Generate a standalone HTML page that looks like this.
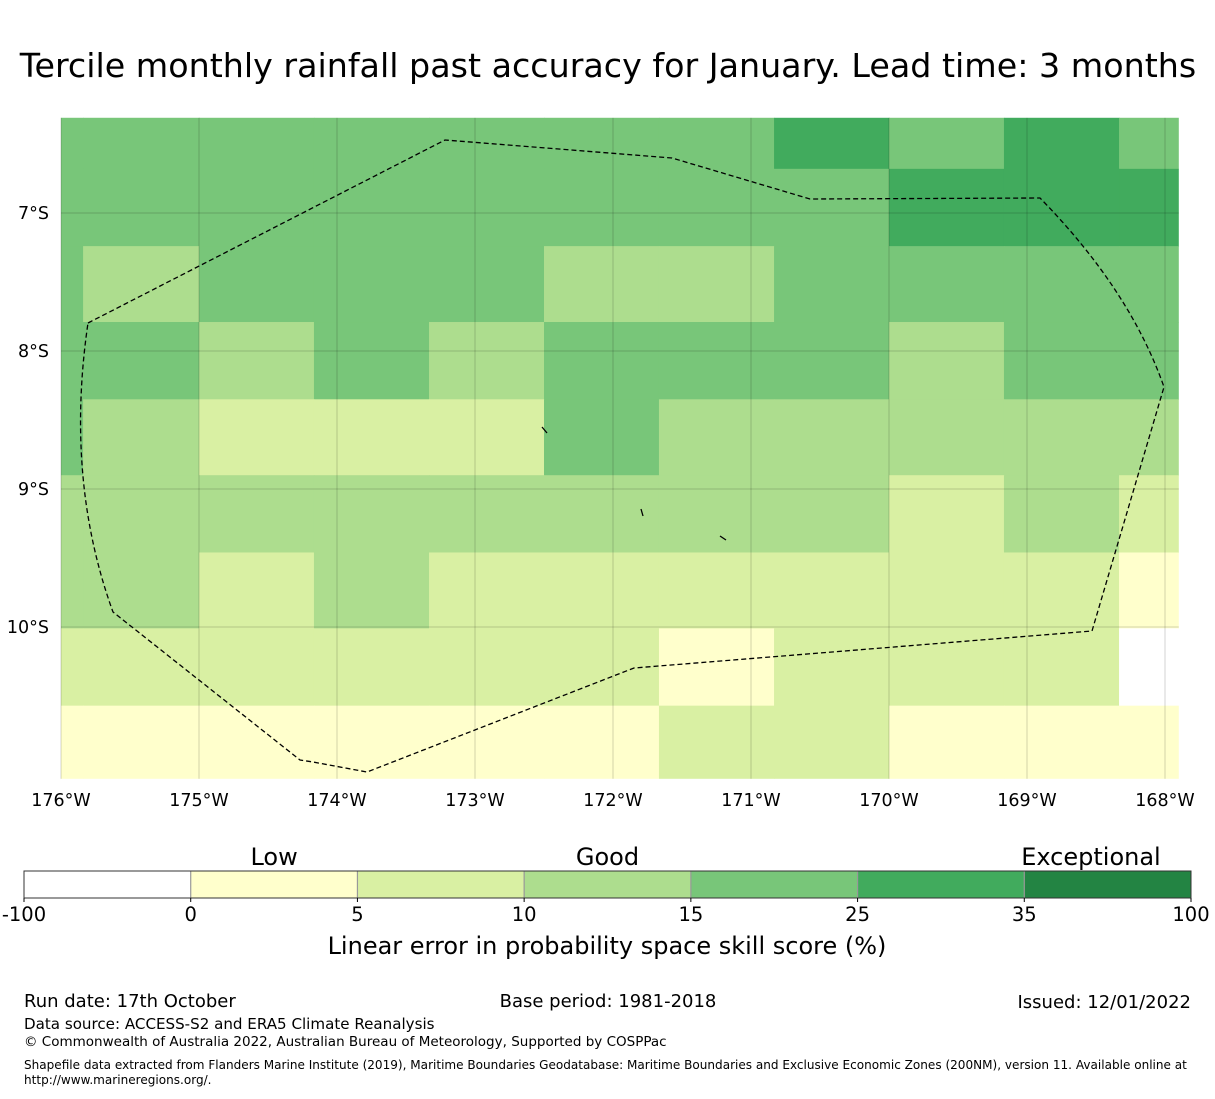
<!DOCTYPE html>
<html><head><meta charset="utf-8"><style>
body{margin:0;background:#fff;width:1215px;height:1095px;overflow:hidden;font-family:"DejaVu Sans","Liberation Sans",sans-serif;}
svg text{font-family:"DejaVu Sans","Liberation Sans",sans-serif;}
</style></head><body>
<svg id="chart" width="1215" height="1095" viewBox="0 0 1215 1095" xmlns="http://www.w3.org/2000/svg">
<text x="608" y="77" font-size="33.3" text-anchor="middle">Tercile monthly rainfall past accuracy for January. Lead time: 3 months</text>
<g id="map"></g>
<g id="cbar"></g>
<text x="607" y="954" font-size="24" text-anchor="middle">Linear error in probability space skill score (%)</text>
<text x="24" y="1007" font-size="18">Run date: 17th October</text>
<text x="608" y="1007" font-size="18" text-anchor="middle">Base period: 1981-2018</text>
<text x="1191" y="1008" font-size="18" text-anchor="end">Issued: 12/01/2022</text>
<text x="24" y="1029" font-size="15.1">Data source: ACCESS-S2 and ERA5 Climate Reanalysis</text>
<text x="24" y="1046" font-size="13.5">© Commonwealth of Australia 2022, Australian Bureau of Meteorology, Supported by COSPPac</text>
<text x="24" y="1069" font-size="12.05">Shapefile data extracted from Flanders Marine Institute (2019), Maritime Boundaries Geodatabase: Maritime Boundaries and Exclusive Economic Zones (200NM), version 11. Available online at</text>
<text x="24" y="1084" font-size="12.05">http://www.marineregions.org/.</text>
</svg>
<script>
// Map data
const lonEdges = [-176, -175.84, -175.0, -174.167, -173.333, -172.5, -171.667, -170.833, -170.0, -169.167, -168.333, -167.9];
const latEdges = [-6.31, -6.68, -7.24, -7.79, -8.35, -8.9, -9.46, -10.01, -10.57, -11.1];
// color classes: 0 white, 1..6 increasing skill
const skillRows = [
 [4,4,4,4,4,4,4,5,4,5,4],
 [4,4,4,4,4,4,4,4,5,5,5],
 [4,3,4,4,4,3,3,4,4,4,4],
 [4,4,3,4,3,4,4,4,3,4,4],
 [4,3,2,2,2,4,3,3,3,3,3],
 [3,3,3,3,3,3,3,3,2,3,2],
 [3,3,2,3,2,2,2,2,2,2,1],
 [2,2,2,2,2,2,1,2,2,2,0],
 [1,1,1,1,1,1,2,2,1,1,1]
];
const lonTicks = [-176,-175,-174,-173,-172,-171,-170,-169,-168];
const latTicks = [-7,-8,-9,-10];
const cbarBounds = ["-100","0","5","10","15","25","35","100"];
const cbarColors = ["#ffffff","#ffffcc","#d9f0a3","#addd8e","#78c679","#41ab5d","#238443"];
const cbarCats = ["Low","Good","Exceptional"];
const cbarCatPos = [1.5,3.5,6.4];

const NS='http://www.w3.org/2000/svg';
const X = lon => 61 + (lon + 176) * 138;
const Y = lat => 213 + (-7 - lat) * 138;
function mk(tag, attrs, parent){const e=document.createElementNS(NS,tag);for(const k in attrs)e.setAttribute(k,attrs[k]);parent.appendChild(e);return e;}
const map=document.getElementById('map');
for(let r=0;r<skillRows.length;r++){
  for(let c=0;c<skillRows[r].length;c++){
    const x0=X(lonEdges[c]),x1=X(lonEdges[c+1]),y0=Y(latEdges[r]),y1=Y(latEdges[r+1]);
    const w=(c===skillRows[r].length-1)?x1-x0:x1-x0+0.5;
    const h=(r===skillRows.length-1)?y1-y0:y1-y0+0.5;
    const e=mk('rect',{x:x0,y:y0,width:w,height:h,fill:cbarColors[skillRows[r][c]]},map);
    
    
  }
}
const mapL=X(-176),mapR=X(-167.9),mapT=Y(-6.31),mapB=Y(-11.1);
lonTicks.forEach(lon=>{
  const x=X(lon);
  const l=mk('line',{x1:x,x2:x,y1:mapT,y2:mapB,stroke:'#000','stroke-opacity':0.35,'stroke-width':0.5},map);
  
  
  const t=mk('text',{x:x,y:mapB+27,'font-size':17.5,'text-anchor':'middle'},map);
  t.textContent=Math.abs(lon)+'°W';
  
  
});
latTicks.forEach(lat=>{
  const y=Y(lat);
  const l=mk('line',{x1:mapL,x2:mapR,y1:y,y2:y,stroke:'#000','stroke-opacity':0.35,'stroke-width':0.5},map);
  
  
  const t=mk('text',{x:49,y:y+6,'font-size':17.5,'text-anchor':'end'},map);
  t.textContent=Math.abs(lat)+'°S';
  
  
});
const eez=mk('path',{d:'M88,323 L445,140 L672,158 L810,199 L1040,198 Q1130,290 1164,387 L1092,631 L634,668 L367,772 L313,762 L300,760 L113,612 Q65,480 88,323 Z',fill:'none',stroke:'#000','stroke-width':1.3,'stroke-dasharray':'5,3'},map);


['M542,427 L547,433','M641,509 L643,516','M720,536 L726,540'].forEach(d=>{
  const i=mk('path',{d:d,stroke:'#000','stroke-width':1.3,fill:'none'},map);
  
  
});
// colorbar
const cb=document.getElementById('cbar');
const cbX0=24,cbW=1167,cbY=871,cbH=27,seg=cbW/cbarColors.length;
cbarColors.forEach((col,i)=>{
  const e=mk('rect',{x:cbX0+i*seg,y:cbY,width:seg,height:cbH,fill:col},cb);
  
  
  if(i>0){const d=mk('line',{x1:cbX0+i*seg,x2:cbX0+i*seg,y1:cbY,y2:cbY+cbH,stroke:'#999','stroke-width':1.2},cb);
    
    }
});
const fr=mk('rect',{x:cbX0,y:cbY,width:cbW,height:cbH,fill:'none',stroke:'#333','stroke-width':1},cb);


cbarBounds.forEach((b,i)=>{
  const x=cbX0+i*seg;
  const tk=mk('line',{x1:x,x2:x,y1:cbY+cbH,y2:cbY+cbH+4,stroke:'#000'},cb);
  
  
  const t=mk('text',{x:x,y:921,'font-size':19.5,'text-anchor':'middle'},cb);
  t.textContent=b;
  
  
});
cbarCats.forEach((c,i)=>{
  const t=mk('text',{x:cbX0+cbarCatPos[i]*seg,y:865,'font-size':24,'text-anchor':'middle'},cb);
  t.textContent=c;
  
  
});
</script>
</body></html>
